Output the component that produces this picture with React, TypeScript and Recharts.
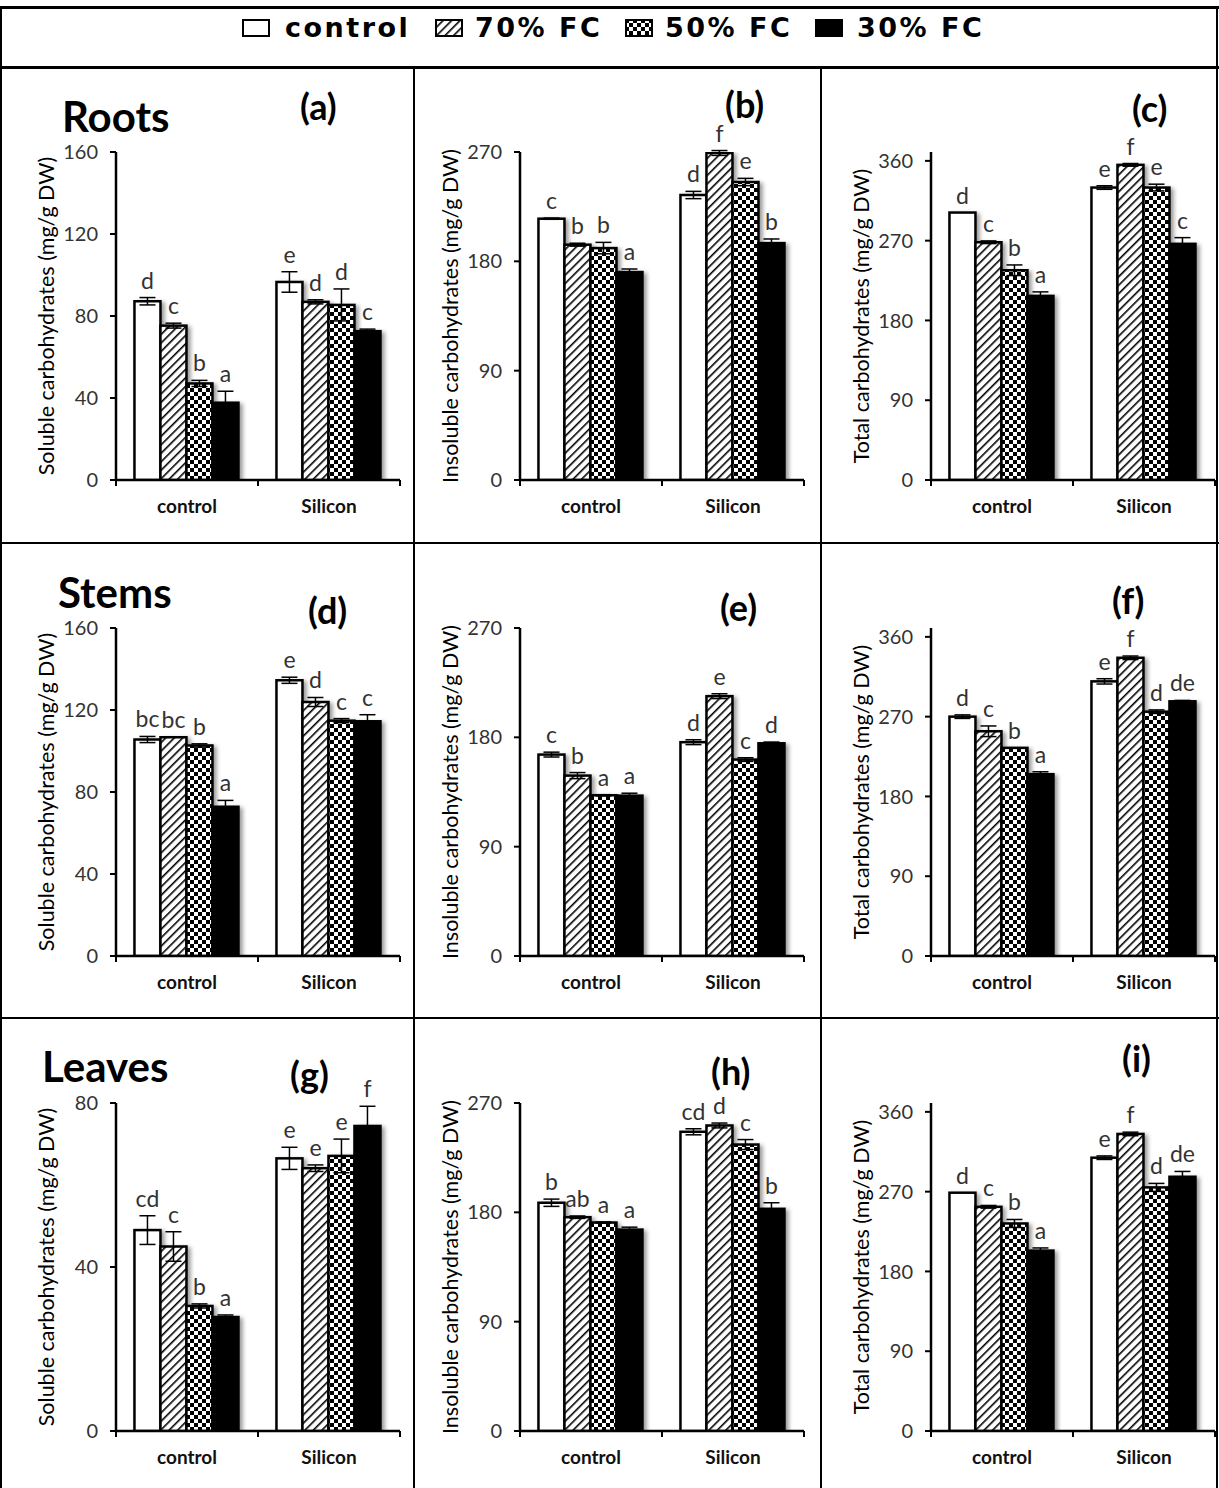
import React from "react";
import { BarChart, Bar, XAxis, YAxis, ErrorBar, LabelList, Label } from "recharts";

const FONT = "Lato, 'Open Sans', sans-serif";

const groups = ["control", "Silicon"];
const treatments = ["control", "70% FC", "50% FC", "30% FC"];
const fills = ["#ffffff", "url(#hatch)", "url(#checker)", "#000000"];

// each array: control group (4 treatments) then Silicon group (4 treatments)
const rootsSoluble = [87.2, 75.3, 47.1, 37.7, 96.6, 86.9, 85.4, 72.6];
const rootsSolubleErr = [1.8, 1.2, 1.5, 5.6, 5, 1, 7.8, 1];
const rootsSolubleLetters = ["d", "c", "b", "a", "e", "d", "d", "c"];

const rootsInsoluble = [215.1, 193.7, 190.9, 171.2, 234.6, 269.2, 245.3, 195.0];
const rootsInsolubleErr = [0.5, 1.2, 4.7, 2.5, 3, 2, 3, 3.4];
const rootsInsolubleLetters = ["c", "b", "b", "a", "d", "f", "e", "b"];

const rootsTotal = [301.7, 268.2, 236.6, 207.7, 329.9, 355.5, 329.9, 266.4];
const rootsTotalErr = [0, 1.5, 6, 4.5, 2, 1.5, 3.8, 7];
const rootsTotalLetters = ["d", "c", "b", "a", "e", "f", "e", "c"];

const stemsSoluble = [105.6, 106.7, 102.7, 72.8, 134.5, 123.9, 114.8, 114.5];
const stemsSolubleErr = [1.5, 0, 0.8, 3.1, 1.5, 2.2, 1, 3.2];
const stemsSolubleLetters = ["bc", "bc", "b", "a", "e", "d", "c", "c"];

const stemsInsoluble = [165.8, 148.5, 132.3, 132.0, 176.0, 213.9, 161.7, 175.1];
const stemsInsolubleErr = [2, 2.5, 0.5, 2, 2, 2, 1.5, 1];
const stemsInsolubleLetters = ["c", "b", "a", "a", "d", "e", "c", "d"];

const stemsTotal = [270.0, 253.5, 234.8, 205.1, 309.8, 336.4, 275.6, 287.3];
const stemsTotalErr = [2, 6, 0, 2.7, 3, 2, 2, 1];
const stemsTotalLetters = ["d", "c", "b", "a", "e", "f", "d", "de"];

const leavesSoluble = [49.0, 45.0, 30.5, 27.8, 66.5, 64.1, 67.1, 74.4];
const leavesSolubleErr = [3.5, 3.6, 0.5, 0.5, 2.7, 0.8, 4.1, 4.8];
const leavesSolubleLetters = ["cd", "c", "b", "a", "e", "e", "e", "f"];

const leavesInsoluble = [187.9, 176.0, 171.6, 165.8, 246.3, 251.5, 235.8, 182.9];
const leavesInsolubleErr = [3, 1, 0.5, 2, 2.5, 2, 4.1, 5];
const leavesInsolubleLetters = ["b", "ab", "a", "a", "cd", "d", "c", "b"];

const leavesTotal = [268.8, 252.9, 234.1, 203.5, 308.3, 335.1, 274.8, 286.8];
const leavesTotalErr = [0, 1.5, 4.5, 3, 2, 2, 4.5, 6];
const leavesTotalLetters = ["d", "c", "b", "a", "e", "f", "d", "de"];

const solubleTicks = [0, 40, 80, 120, 160];
const leavesSolubleTicks = [0, 40, 80];
const insolubleTicks = [0, 90, 180, 270];
const totalTicks = [0, 90, 180, 270, 360];

const TOP_PAD = 40;
const CHART_W = 377;
const CHART_H = 328 + TOP_PAD + 50;
const PLOT_W = 284;

const colAxisX = [116, 520, 931];
const rowPlotTop = [152, 628, 1103];

const panels = [
  { means: rootsSoluble, errs: rootsSolubleErr, letters: rootsSolubleLetters, max: 160, ticks: solubleTicks, label: "Soluble carbohydrates (mg/g DW)", col: 0, row: 0 },
  { means: rootsInsoluble, errs: rootsInsolubleErr, letters: rootsInsolubleLetters, max: 270, ticks: insolubleTicks, label: "Insoluble carbohydrates (mg/g DW)", col: 1, row: 0 },
  { means: rootsTotal, errs: rootsTotalErr, letters: rootsTotalLetters, max: 370, ticks: totalTicks, label: "Total carbohydrates (mg/g DW)", col: 2, row: 0 },
  { means: stemsSoluble, errs: stemsSolubleErr, letters: stemsSolubleLetters, max: 160, ticks: solubleTicks, label: "Soluble carbohydrates (mg/g DW)", col: 0, row: 1 },
  { means: stemsInsoluble, errs: stemsInsolubleErr, letters: stemsInsolubleLetters, max: 270, ticks: insolubleTicks, label: "Insoluble carbohydrates (mg/g DW)", col: 1, row: 1 },
  { means: stemsTotal, errs: stemsTotalErr, letters: stemsTotalLetters, max: 370, ticks: totalTicks, label: "Total carbohydrates (mg/g DW)", col: 2, row: 1 },
  { means: leavesSoluble, errs: leavesSolubleErr, letters: leavesSolubleLetters, max: 80, ticks: leavesSolubleTicks, label: "Soluble carbohydrates (mg/g DW)", col: 0, row: 2 },
  { means: leavesInsoluble, errs: leavesInsolubleErr, letters: leavesInsolubleLetters, max: 270, ticks: insolubleTicks, label: "Insoluble carbohydrates (mg/g DW)", col: 1, row: 2 },
  { means: leavesTotal, errs: leavesTotalErr, letters: leavesTotalLetters, max: 370, ticks: totalTicks, label: "Total carbohydrates (mg/g DW)", col: 2, row: 2 },
];

const titles = [
  { text: "Roots", x: 62, y: 116, size: 42 },
  { text: "Stems", x: 58, y: 592, size: 42 },
  { text: "Leaves", x: 42, y: 1066, size: 42 },
  { text: "(a)", x: 300, y: 106, size: 36 },
  { text: "(b)", x: 725, y: 104, size: 36 },
  { text: "(c)", x: 1132, y: 108, size: 36 },
  { text: "(d)", x: 308, y: 610, size: 36 },
  { text: "(e)", x: 720, y: 607, size: 36 },
  { text: "(f)", x: 1112, y: 600, size: 36 },
  { text: "(g)", x: 290, y: 1074, size: 36 },
  { text: "(h)", x: 711, y: 1071, size: 36 },
  { text: "(i)", x: 1122, y: 1058, size: 36 },
];

const legendPos = [
  { box: 242, text: 285 },
  { box: 435, text: 475 },
  { box: 625, text: 665 },
  { box: 815, text: 857 },
];

const BarShape = (props: any) => {
  const { x, y, width, height, fillColor } = props;
  if (!width || !height) return null;
  return (
    <rect
      x={x}
      y={y}
      width={width}
      height={height}
      fill={fillColor}
      stroke="#000"
      strokeWidth={2.5}
      filter="url(#barShadow)"
    />
  );
};

const CategoryTick = (props: any) => {
  const { x, y, payload, index } = props;
  const half = PLOT_W / 4;
  return (
    <g>
      <line x1={x - half} y1={y} x2={x - half} y2={y + 6} stroke="#000" strokeWidth={2} />
      {index === 1 && <line x1={x + half} y1={y} x2={x + half} y2={y + 6} stroke="#000" strokeWidth={2} />}
      <text x={x} y={y + 33} textAnchor="middle" fontSize={19} fontWeight={700} fill="#111" fontFamily={FONT}>
        {payload.value}
      </text>
    </g>
  );
};

const Panel = ({ means, errs, letters, max, ticks, label, col, row }: any) => {
  const rows = groups.map((g, gi) => {
    const r: any = { group: g };
    treatments.forEach((_, ti) => {
      r[`t${ti}`] = means[gi * 4 + ti];
      r[`e${ti}`] = errs[gi * 4 + ti];
    });
    return r;
  });

  const letterContent = (ti: number) => (p: any) => {
    const vb = p.viewBox || {};
    const x = p.x ?? vb.x;
    const y = p.y ?? vb.y;
    const w = p.width ?? vb.width;
    const h = p.height ?? vb.height;
    const idx = p.index;
    const v = p.value;
    const err = errs[idx * 4 + ti];
    const errPx = v ? (err * h) / v : 0;
    return (
      <text x={x + w / 2} y={y - errPx - 9} textAnchor="middle" fontSize={23} fill="#333" fontFamily={FONT}>
        {letters[idx * 4 + ti]}
      </text>
    );
  };

  return (
    <div style={{ position: "absolute", left: colAxisX[col] - 90, top: rowPlotTop[row] - TOP_PAD }}>
      <BarChart
        width={CHART_W}
        height={CHART_H}
        data={rows}
        margin={{ top: TOP_PAD, right: 3, bottom: 5, left: 10 }}
        barCategoryGap="13%"
        barGap={0}
      >
        <XAxis
          dataKey="group"
          axisLine={{ stroke: "#000", strokeWidth: 2.5 }}
          tickLine={false}
          tickSize={0}
          tickMargin={0}
          tick={<CategoryTick />}
          interval={0}
          height={45}
        />
        <YAxis
          width={80}
          domain={[0, max]}
          ticks={ticks}
          allowDataOverflow
          axisLine={{ stroke: "#000", strokeWidth: 2.5 }}
          tickLine={{ stroke: "#000", strokeWidth: 2 }}
          tickSize={6}
          tickMargin={12}
          tick={{ fill: "#333", fontSize: 20, fontFamily: FONT }}
        >
          <Label
            value={label}
            angle={-90}
            position="insideLeft"
            offset={10}
            style={{ textAnchor: "middle", fontSize: 21.5, fill: "#000", fontFamily: FONT }}
          />
        </YAxis>
        {treatments.map((t, ti) => (
          <Bar
            key={t}
            dataKey={`t${ti}`}
            name={t}
            isAnimationActive={false}
            shape={(p: any) => <BarShape {...p} fillColor={fills[ti]} />}
          >
            <ErrorBar dataKey={`e${ti}`} width={8} stroke="#000" strokeWidth={1.5} />
            <LabelList dataKey={`t${ti}`} content={letterContent(ti)} />
          </Bar>
        ))}
      </BarChart>
    </div>
  );
};

const line = (left: number, top: number, width: number, height: number) => (
  <div key={`${left}-${top}-${width}`} style={{ position: "absolute", left, top, width, height, background: "#000" }} />
);

export default function App() {
  return (
    <div style={{ position: "relative", width: 1219, height: 1488, overflow: "hidden", background: "#fff", fontFamily: FONT }}>
      <style>{"body{margin:0}"}</style>
      <svg width={0} height={0} style={{ position: "absolute" }}>
        <defs>
          <pattern id="hatch" patternUnits="userSpaceOnUse" width={6} height={6} patternTransform="rotate(45)">
            <rect width={6} height={6} fill="#fff" />
            <rect x={0} y={0} width={1.6} height={6} fill="#000" />
          </pattern>
          <pattern id="checker" patternUnits="userSpaceOnUse" width={8} height={8}>
            <rect width={8} height={8} fill="#fff" />
            <rect x={0} y={0} width={4} height={4} fill="#000" />
            <rect x={4} y={4} width={4} height={4} fill="#000" />
          </pattern>
          <filter id="barShadow" x="-30%" y="-10%" width="160%" height="120%">
            <feDropShadow dx={3} dy={2} stdDeviation={2} floodColor="#000" floodOpacity={0.4} />
          </filter>
        </defs>
      </svg>

      {line(0, 6, 1219, 3)}
      {line(0, 66, 1219, 3)}
      {line(0, 542, 1219, 2)}
      {line(0, 1017, 1219, 2)}
      {line(0, 6, 2, 1482)}
      {line(1216, 6, 2, 1482)}
      {line(413, 68, 2, 1420)}
      {line(820, 68, 2, 1420)}

      {treatments.map((t, i) => (
        <React.Fragment key={t}>
          <svg width={28} height={18} style={{ position: "absolute", left: legendPos[i].box, top: 19 }}>
            <rect x={1} y={1} width={26} height={16} fill={fills[i]} stroke="#000" strokeWidth={2} />
          </svg>
          <div
            style={{
              position: "absolute",
              left: legendPos[i].text,
              top: 12,
              height: 32,
              lineHeight: "32px",
              fontFamily: "'DejaVu Sans', sans-serif",
              fontWeight: 700,
              fontSize: 27,
              letterSpacing: 2.5,
              color: "#000",
              whiteSpace: "nowrap",
            }}
          >
            {t}
          </div>
        </React.Fragment>
      ))}

      {panels.map((p, i) => (
        <Panel key={i} {...p} />
      ))}

      {titles.map((t) => (
        <div
          key={t.text}
          style={{
            position: "absolute",
            left: t.x,
            top: t.y - Math.round(t.size * 0.4),
            height: Math.round(t.size * 0.8),
            lineHeight: `${Math.round(t.size * 0.8)}px`,
            fontSize: t.size,
            fontWeight: 700,
            color: "#000",
            whiteSpace: "nowrap",
          }}
        >
          {t.text}
        </div>
      ))}
    </div>
  );
}
